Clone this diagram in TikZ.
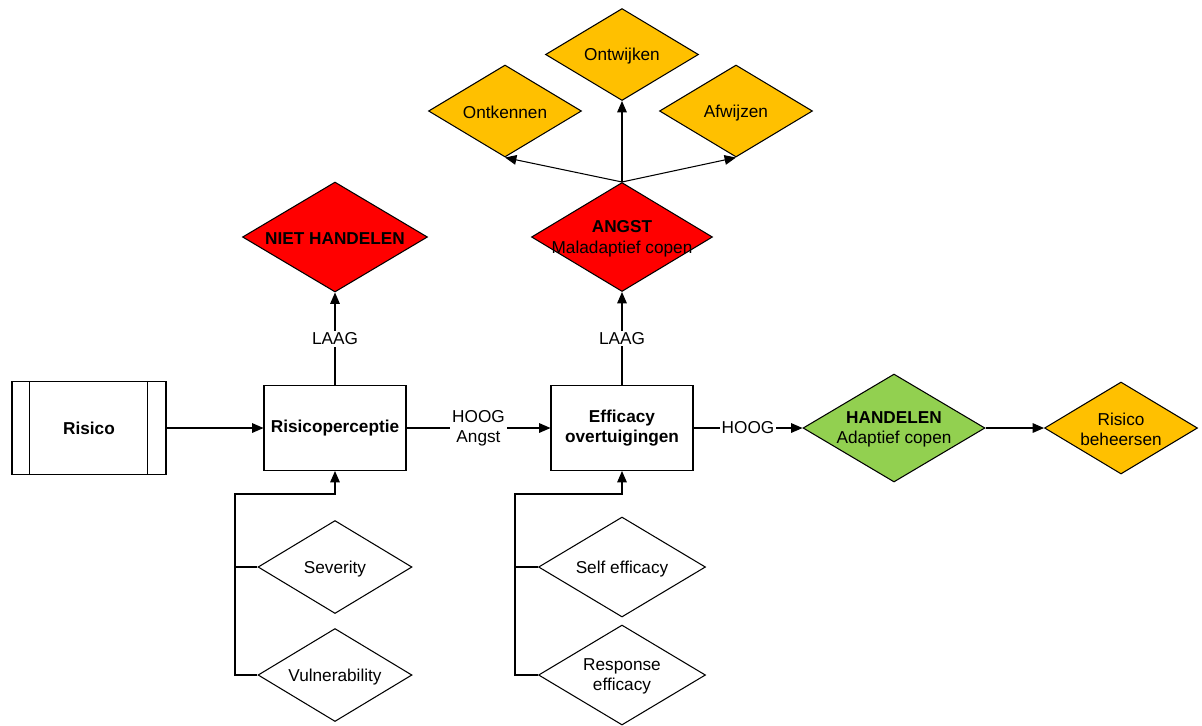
\documentclass[tikz,border=0pt]{standalone}
\usepackage{fontspec}
\setmainfont{Liberation Sans}
\usetikzlibrary{shapes.geometric,arrows.meta}
\definecolor{rcrood}{RGB}{255,0,0}
\definecolor{rcoranje}{RGB}{255,192,0}
\definecolor{rcgroen}{RGB}{146,208,80}

\begin{document}
\begin{tikzpicture}[x=0.02cm,y=-0.02cm,line width=0.6pt, %1 unit = 1 pixel of the original drawing
  every node/.style={font=\fontsize{9.8}{11.4}\selectfont},
  every label/.style={yshift=-1pt},
  blok/.style={draw,rectangle,inner sep=0pt,minimum width=2.84cm,minimum height=1.70cm,align=center,font=\fontsize{9.8}{11.4}\selectfont\bfseries},
  ruit/.style 2 args={draw,diamond,inner sep=0pt,minimum width=#1,minimum height=#2},
  pijl/.style={draw,-{Triangle[length=6.5pt,width=5.5pt]}},
  woord/.style={fill=white,inner sep=1pt,align=center}]
\useasboundingbox (0,0) rectangle (1202,725); %Same size as the original

%Main row
\node[draw,rectangle,inner sep=0pt,minimum width=3.08cm,minimum height=1.86cm,font=\fontsize{9.8}{11.4}\selectfont\bfseries] (risico) at (89,428) {Risico};
\draw ([xshift=0.36cm]risico.north west) -- ([xshift=0.36cm]risico.south west); %Left bar
\draw ([xshift=-0.38cm]risico.north east) -- ([xshift=-0.38cm]risico.south east); %Right bar
\node[blok] (perceptie) at (335,428) {Risicoperceptie};
\node[blok] (efficacy) at (622,428) {Efficacy\\overtuigingen};
\node[ruit={3.64cm}{2.16cm},fill=rcgroen,label={[align=center]center:{\textbf{HANDELEN}\\Adaptief copen}}] (handelen) at (894,428) {};
\node[ruit={3.06cm}{1.84cm},fill=rcoranje,label={[align=center]center:{Risico\\beheersen}}] (beheersen) at (1121,428) {};

%Outcomes for LAAG
\node[ruit={3.70cm}{2.20cm},fill=rcrood,label={center:\textbf{NIET HANDELEN}}] (niet) at (335,237) {};
\node[ruit={3.62cm}{2.18cm},fill=rcrood,label={[align=center]center:{\textbf{ANGST}\\Maladaptief copen}}] (angst) at (622,237) {};

%Maladaptive coping
\node[ruit={3.06cm}{1.84cm},fill=rcoranje,label={center:Ontkennen}] (ontkennen) at (505,111) {};
\node[ruit={3.06cm}{1.84cm},fill=rcoranje,label={center:Ontwijken}] (ontwijken) at (622,54.5) {};
\node[ruit={3.06cm}{1.84cm},fill=rcoranje,label={center:Afwijzen}] (afwijzen) at (736,111) {};

%Inputs
\node[ruit={3.08cm}{1.86cm},label={center:Severity}] (severity) at (335,567) {};
\node[ruit={3.08cm}{1.86cm},label={center:Vulnerability}] (vulnerability) at (335,675) {};
\node[ruit={3.34cm}{2.00cm},label={center:Self efficacy}] (self) at (622,567) {};
\node[ruit={3.34cm}{2.00cm},label={[align=center]center:{Response\\efficacy}}] (response) at (622,675) {};

%Connectors
\draw[pijl] (risico.east) -- (perceptie.west);
\draw[pijl] (perceptie.east) -- node[woord] {HOOG\\Angst} (efficacy.west);
\draw[pijl] (efficacy.east) -- node[woord] {HOOG} (handelen.west);
\draw[pijl] (handelen.east) -- (beheersen.west);
\draw[pijl] (perceptie.north) -- node[woord] {LAAG} (niet.south);
\draw[pijl] (efficacy.north) -- node[woord] {LAAG} (angst.south);
\draw[pijl] (angst.north) -- (ontkennen.south);
\draw[pijl] (angst.north) -- (ontwijken.south);
\draw[pijl] (angst.north) -- (afwijzen.south);

%Feedback lines
\coordinate (knik1) at (235,494);
\coordinate (knik2) at (515,494);
\draw[pijl] (vulnerability.west) -| (knik1) -| (perceptie.south);
\draw (severity.west) -- (severity.west -| knik1);
\draw[pijl] (response.west) -| (knik2) -| (efficacy.south);
\draw (self.west) -- (self.west -| knik2);
\end{tikzpicture}
\end{document}
